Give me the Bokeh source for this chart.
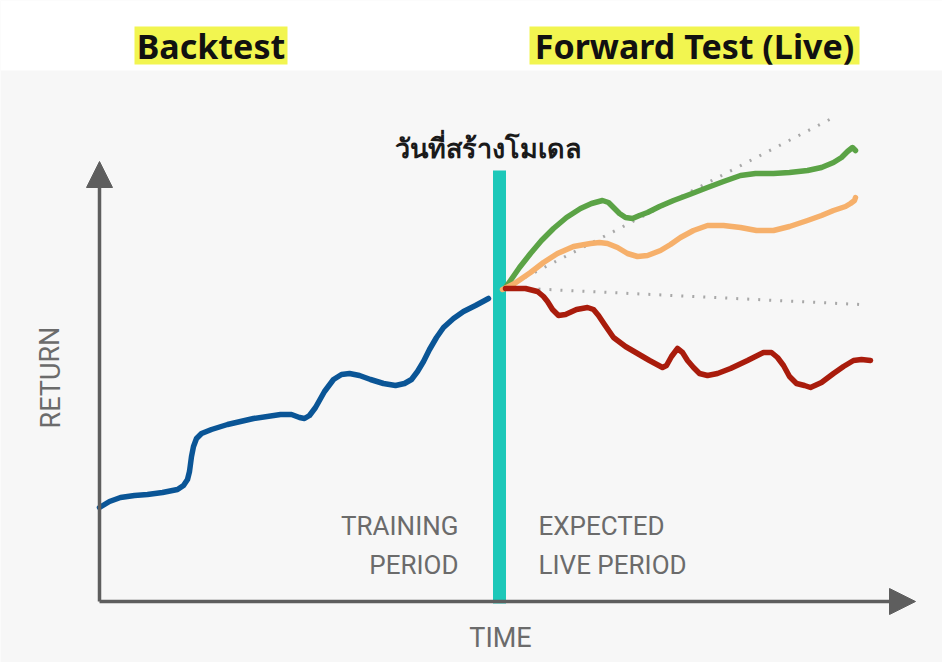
from bokeh.plotting import figure
from bokeh.models import Range1d, Label, Arrow, NormalHead, BoxAnnotation
from bokeh.embed import file_html
from bokeh.resources import INLINE

# ---- data (time, return) ----
backtest_t = [0, 10, 21, 35, 48, 63, 78, 84, 88, 90, 92, 94, 97, 102, 112, 128, 154, 181, 192, 200, 205, 210,
              216, 225, 234, 242, 250, 260, 271, 284, 296, 305, 312, 318, 324, 330, 337, 344, 354, 364, 376, 389]
backtest_r = [94, 100, 104, 106, 107, 109, 112, 116, 122, 130, 145, 155, 163, 168, 172, 177, 183, 187, 187, 184,
              183, 186, 194, 210, 222, 227, 228, 226, 222, 218, 216, 218, 222, 230, 240, 252, 264, 274, 283, 290,
              296, 303]

good_t = [406, 411, 420, 431, 442, 454, 467, 481, 492, 503, 509, 514, 520, 526, 533, 540, 548, 560, 574, 590,
          608, 624, 641, 656, 674, 690, 708, 722, 734, 742, 748, 753, 756]
good_r = [314, 321, 334, 348, 361, 373, 384, 393, 398, 401, 399, 394, 388, 384, 383, 386, 389, 395, 401, 407,
          414, 420, 426, 428, 428, 429, 431, 434, 439, 444, 450, 454, 451]

mid_t = [403, 415, 431, 444, 458, 474, 491, 500, 508, 518, 528, 538, 548, 561, 571, 581, 594, 608, 624, 641,
         657, 674, 690, 708, 722, 734, 746, 751, 755, 756]
mid_r = [312, 318, 329, 339, 348, 355, 358, 359, 358, 354, 348, 345, 346, 351, 357, 364, 371, 376, 376, 374,
         371, 371, 375, 381, 386, 391, 395, 398, 401, 404]

bad_t = [406, 414, 426, 438, 444, 448, 453, 459, 466, 477, 488, 494, 499, 505, 514, 526, 538, 550, 563, 567,
         572, 578, 583, 588, 594, 600, 608, 618, 631, 648, 664, 672, 678, 684, 690, 697, 705, 711, 722, 734,
         744, 754, 762, 771]
bad_r = [313, 313, 313, 310, 305, 300, 292, 286, 287, 292, 294, 292, 286, 277, 264, 255, 248, 241, 234, 236,
         245, 253, 249, 241, 234, 228, 226, 228, 233, 241, 249, 249, 244, 236, 225, 218, 216, 214, 219, 228,
         235, 241, 242, 241]

upper_trend_t = [406, 734]
upper_trend_r = [314, 484]
flat_trend_t = [406, 761]
flat_trend_r = [314, 297]

model_date_t = 400
model_line_r = [-2, 431]

x_axis_end = 816
y_axis_end = 440

TXT = "#6b6b6b"
FONT = "Roboto"

p = figure(width=942, height=662, output_backend="svg", toolbar_location=None,
           x_axis_type=None, y_axis_type=None,
           x_range=Range1d(-99, 843), y_range=Range1d(-61, 601), min_border=0)
p.outline_line_color = None
p.grid.visible = False
p.background_fill_color = "#f7f7f7"
p.border_fill_color = "white"

p.add_layout(BoxAnnotation(bottom=531, fill_color="white", fill_alpha=1.0, line_color=None, level="underlay"))

# title highlight boxes
p.quad(left=[35, 430], right=[188, 760], bottom=[537, 537], top=[575, 575],
       fill_color="#f2f550", line_color=None)

# axes arrows
ax_col = "#5e5e5e"
p.add_layout(Arrow(x_start=0, y_start=0, x_end=0, y_end=y_axis_end, line_color=ax_col, line_width=3.5,
                   end=NormalHead(size=26, fill_color=ax_col, line_color=ax_col)))
p.add_layout(Arrow(x_start=0, y_start=0, x_end=x_axis_end, y_end=0, line_color=ax_col, line_width=3.5,
                   end=NormalHead(size=26, fill_color=ax_col, line_color=ax_col)))

# trend dotted lines
p.line(upper_trend_t, upper_trend_r, line_color="#a8a8a8", line_width=3, line_dash="2 9")
p.line(flat_trend_t, flat_trend_r, line_color="#a8a8a8", line_width=3, line_dash="2 9")

# model creation date line
p.segment(x0=[model_date_t], y0=[model_line_r[0]], x1=[model_date_t], y1=[model_line_r[1]],
          line_color="#1dc8b9", line_width=13)

# curves
kw = dict(line_width=5.5, line_cap="round", line_join="round")
p.line(backtest_t, backtest_r, line_color="#0a5596", **kw)
p.line(good_t, good_r, line_color="#5ba346", **kw)
p.line(mid_t, mid_r, line_color="#f6b06b", **kw)
p.line(bad_t, bad_r, line_color="#a91c0c", **kw)

# titles
p.add_layout(Label(x=111.5, y=556, text="Backtest", text_font="Noto Sans", text_font_style="bold",
                   text_font_size="34px", text_color="#111111", text_baseline="middle", text_align="center"))
p.add_layout(Label(x=595, y=556, text="Forward Test (Live)", text_font="Noto Sans", text_font_style="bold",
                   text_font_size="34px", text_color="#111111", text_baseline="middle", text_align="center"))
p.add_layout(Label(x=389, y=454, text="วันที่สร้างโมเดล", text_font="Noto Sans", text_font_style="bold",
                   text_font_size="27px", text_color="#1a1a1a", text_baseline="middle", text_align="center"))

# axis labels
p.add_layout(Label(x=-49, y=224, text="RETURN", text_font=FONT, text_font_size="27px", text_color=TXT,
                   angle=1.5708, text_baseline="middle", text_align="center"))
p.add_layout(Label(x=401, y=-36, text="TIME", text_font=FONT, text_font_size="27px", text_color=TXT,
                   text_baseline="middle", text_align="center"))
for txt, yy in [("TRAINING", 76), ("PERIOD", 37)]:
    p.add_layout(Label(x=359, y=yy, text=txt, text_font=FONT, text_font_size="26px", text_color=TXT,
                       text_baseline="middle", text_align="right"))
for txt, yy in [("EXPECTED", 76), ("LIVE PERIOD", 37)]:
    p.add_layout(Label(x=439, y=yy, text=txt, text_font=FONT, text_font_size="26px", text_color=TXT,
                       text_baseline="middle", text_align="left"))

open("out.html", "w").write(file_html(p, INLINE))
